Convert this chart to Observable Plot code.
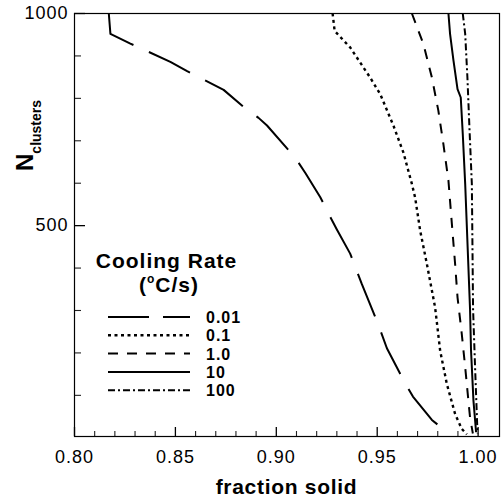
<!DOCTYPE html>
<html><head><meta charset="utf-8">
<script src="https://cdn.jsdelivr.net/npm/d3@7"></script>
<script src="https://cdn.jsdelivr.net/npm/@observablehq/plot@0.6"></script>
<style>
html,body{margin:0;padding:0;background:#fff;}
#chart svg text{letter-spacing:1px;}
</style></head><body><div id="chart"></div>
<script>
// ---- data ----
const rates = ["0.01", "0.1", "1.0", "10", "100"];

const fs_0_01 = [0.8170,0.8178,0.8277,0.8356,0.8475,0.8558,0.8632,0.8739,0.8835,0.8912,0.8954,0.9094,0.9144,0.9218,0.9259,0.9300,0.9366,0.9396,0.9424,0.9506,0.9548,0.9630,0.9677,0.9771,0.9828,0.9845];
const n_0_01  = [1000,952,929,912,886,864,846,820,781,754,736,660,624,567,528,491,434,397,362,266,211,136,97,42,20,19];

const fs_0_1 = [0.9279,0.9289,0.9366,0.9465,0.9515,0.9581,0.9630,0.9672,0.9688,0.9713,0.9746,0.9787,0.9812,0.9845,0.9886,0.9919,0.9944];
const n_0_1  = [1000,959,920,849,810,735,672,598,566,488,410,307,205,127,56,21,8];

const fs_1_0 = [0.9672,0.9729,0.9771,0.9803,0.9828,0.9853,0.9870,0.9886,0.9898,0.9919,0.9936,0.9952,0.9960,0.9974];
const n_1_0  = [1000,928,849,771,692,606,504,410,331,245,166,87,48,10];

const fs_10 = [0.9853,0.9861,0.9878,0.9898,0.9914,0.9924,0.9936,0.9960,0.9965,0.9977,0.9990];
const n_10  = [1000,952,889,822,802,716,598,303,205,87,13];

const fs_100 = [0.9924,0.9936,0.9947,0.9957,0.9969,0.9975,0.9985,0.9997];
const n_100  = [1000,952,849,731,598,304,166,10];

const xMajor = [0.80, 0.85, 0.90, 0.95, 1.00];
const xMinor = [0.81,0.82,0.83,0.84,0.86,0.87,0.88,0.89,0.91,0.92,0.93,0.94,0.96,0.97,0.98,0.99];
const yMajor = [500, 1000];
const yMinor = [100, 200, 300, 400, 600, 700, 800, 900];

// ---- styles per series ----
const dashes = ["46,17", "3,3.5", "10,9", null, "7,3,2,3"];
const seriesFs = [fs_0_01, fs_0_1, fs_1_0, fs_10, fs_100];
const seriesN  = [n_0_01, n_0_1, n_1_0, n_10, n_100];

const lineMarks = seriesFs.map((fs, k) => {
  const rows = fs.map((x, i) => ({fs: x, n: seriesN[k][i], rate: rates[k]}));
  const opts = {x: "fs", y: "n", stroke: "#000", strokeWidth: k === 1 ? 2.4 : 2, strokeLinecap: "butt"};
  if (dashes[k]) opts.strokeDasharray = dashes[k];
  return Plot.line(rows, opts);
});

const W = 502, H = 504, mL = 74, mR = 3, mT = 13, mB = 68;
const innerW = W - mL - mR, innerH = H - mT - mB;

const svgNode = Plot.plot({
  width: W, height: H,
  marginLeft: mL, marginRight: mR, marginTop: mT, marginBottom: mB,
  x: {domain: [0.8, 1.0106]},
  y: {domain: [3, 1000]},
  style: {fontFamily: "'Liberation Sans', Arial, sans-serif", background: "#fff", color: "#000"},
  marks: [
    Plot.axisX(xMajor, {tickSize: 0, tickPadding: 14, tickFormat: d => d.toFixed(2), fontSize: 18, label: null}),
    Plot.axisY(yMajor, {tickSize: 0, tickPadding: 6, tickFormat: d => String(d), fontSize: 18, label: null}),
    // inward ticks
    Plot.tickX(xMajor, {x: d => d, insetTop: innerH - 9, stroke: "#000", strokeWidth: 1.3}),
    Plot.tickX(xMinor, {x: d => d, insetTop: innerH - 5, stroke: "#222", strokeWidth: 1.1}),
    Plot.tickY(yMajor, {y: d => d, insetRight: innerW - 11, stroke: "#000", strokeWidth: 1.3}),
    Plot.tickY(yMinor, {y: d => d, insetRight: innerW - 7, stroke: "#222", strokeWidth: 1.1}),
    ...lineMarks,
    Plot.frame({stroke: "#000", strokeWidth: 1.2})
  ]
});
document.getElementById("chart").appendChild(svgNode);

const svg = d3.select(svgNode);
const font = "'Liberation Sans', Arial, sans-serif";

// x-axis title
svg.append("text")
  .attr("x", 286.5).attr("y", 494)
  .attr("text-anchor", "middle")
  .attr("font-family", font).attr("font-weight", "bold").attr("font-size", 21)
  .style("letter-spacing", "0.7px")
  .text("fraction solid");

// y-axis title with subscript
const yt = svg.append("text")
  .attr("transform", "translate(33,171) rotate(-90)")
  .attr("text-anchor", "start")
  .attr("font-family", font).attr("font-weight", "bold")
  .style("letter-spacing", "0px");
yt.append("tspan").attr("font-size", 24).text("N");
yt.append("tspan").attr("font-size", 14).attr("dy", 8).text("clusters");

// legend
const lg = svg.append("g").attr("font-family", font).attr("font-weight", "bold");
lg.append("text").attr("x", 166.5).attr("y", 268).attr("text-anchor", "middle")
  .attr("font-size", 21).style("letter-spacing", "1px").text("Cooling Rate");
const sub = lg.append("text").attr("x", 169).attr("y", 292).attr("text-anchor", "middle")
  .attr("font-size", 21).style("letter-spacing", "1px");
sub.append("tspan").text("(");
sub.append("tspan").attr("font-size", 12).attr("dy", -9).text("o");
sub.append("tspan").attr("dy", 9).text("C/s)");

rates.forEach((r, i) => {
  const y = 317 + i * 18.3;
  const ln = lg.append("line").attr("x1", 108).attr("x2", 190).attr("y1", y).attr("y2", y)
    .attr("stroke", "#000").attr("stroke-width", i === 1 ? 2.4 : 2);
  if (dashes[i]) ln.attr("stroke-dasharray", dashes[i] === "46,17" ? "41,14" : dashes[i]);
  lg.append("text").attr("x", 206).attr("y", y + 6).attr("font-size", 16)
    .attr("text-anchor", "start")
    .style("letter-spacing", "1px").text(r);
});
</script>
</body></html>
